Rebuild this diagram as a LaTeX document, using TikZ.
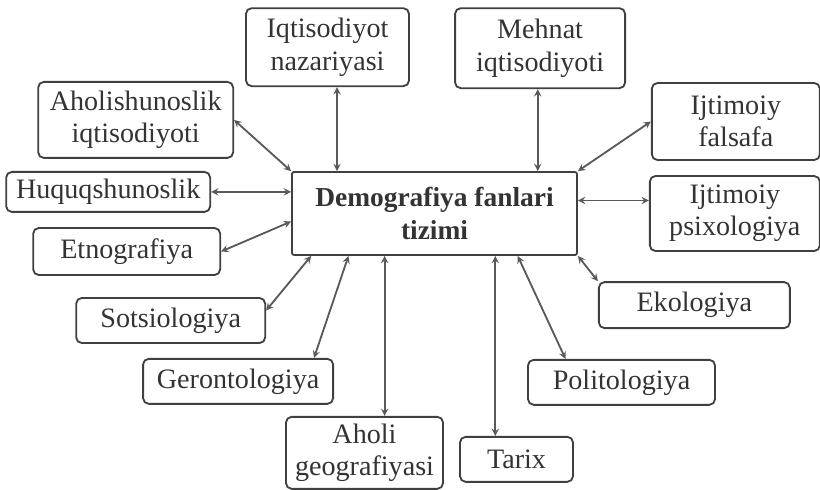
\documentclass[tikz,border=0pt]{standalone}
\usepackage{fontspec}
\setmainfont{Liberation Serif}
\usetikzlibrary{positioning, arrows, calc}

\begin{document}
\begin{tikzpicture}[>=stealth,node distance=20mm,
  box/.style={draw=black!75, line width=1.3pt, rounded corners=4pt, align=center, inner sep=1pt,
    text=black!80, font=\fontsize{20}{23}\selectfont},
  link/.style={<->, draw=black!65, line width=1.3pt}]
  \useasboundingbox (0,0) rectangle (20.5,-12.225);

  \node[box, rounded corners=1.5pt, minimum width=7.125cm, minimum height=2.075cm,
    font=\bfseries\fontsize{19.5}{23}\selectfont] (c) at (10.8625,-5.3375) {Demografiya fanlari\\tizimi};

  \node[box, minimum width=4.075cm, minimum height=1.95cm, above=2.1cm of c, xshift=-2.675cm] (iqt) {Iqtisodiyot\\nazariyasi};
  \node[box, minimum width=4.25cm, minimum height=2cm, above=2.05cm of c, xshift=2.64cm] (meh) {Mehnat\\iqtisodiyoti};
  \node[box, minimum width=4.875cm, minimum height=1.9cm, left=1.425cm of c, yshift=2.34cm] (aho) {Aholishunoslik\\iqtisodiyoti};
  \node[box, minimum width=5.1cm, minimum height=1cm, left=2cm of c, yshift=0.54cm] (huq) {Huquqshunoslik};
  \node[box, minimum width=4.675cm, minimum height=1.175cm, left=1.75cm of c, yshift=-0.95cm] (etn) {Etnografiya};
  \node[box, minimum width=4.725cm, minimum height=1.125cm, left=0.625cm of c, yshift=-2.675cm] (sot) {Sotsiologiya};
  \node[box, minimum width=4.75cm, minimum height=1.125cm, below=2.55cm of c, xshift=-4.91cm] (ger) {Gerontologiya};
  \node[box, minimum width=3.925cm, minimum height=1.8cm, below=4cm of c, xshift=-1.75cm] (ageo) {Aholi\\geografiyasi};
  \node[box, minimum width=2.825cm, minimum height=1.125cm, below=4.5cm of c, xshift=2.05cm] (tar) {Tarix};
  \node[box, minimum width=4.675cm, minimum height=1.125cm, below=2.575cm of c, xshift=4.675cm] (pol) {Politologiya};
  \node[box, minimum width=4.775cm, minimum height=1.15cm, right=0.5cm of c, yshift=-2.29cm] (eko) {Ekologiya};
  \node[box, minimum width=4.25cm, minimum height=1.875cm, right=1.775cm of c] (psi) {Ijtimoiy\\psixologiya};
  \node[box, minimum width=4.2cm, minimum height=1.925cm, right=1.825cm of c, yshift=2.3cm] (fal) {Ijtimoiy\\falsafa};

  % ports on the central box
  \coordinate (t1) at ($(c.north west)!0.16!(c.north east)$);
  \coordinate (t2) at ($(c.north west)!0.86!(c.north east)$);
  \coordinate (b1) at ($(c.south west)!0.07!(c.south east)$);
  \coordinate (b2) at ($(c.south west)!0.2!(c.south east)$);
  \coordinate (b3) at ($(c.south west)!0.326!(c.south east)$);
  \coordinate (b4) at ($(c.south west)!0.712!(c.south east)$);
  \coordinate (b5) at ($(c.south west)!0.79!(c.south east)$);

  \draw (iqt.south -| t1) edge[link] (t1)
        (meh.south -| t2) edge[link] (t2)
        (aho.east) edge[link] (c.north west)
        (huq.east) edge[link] (huq.east -| c.west)
        (etn.east) edge[link] ([yshift=-0.2cm]c.west)
        ([yshift=0.25cm]sot.east) edge[link] (b1)
        ([xshift=-0.5cm]ger.north east) edge[link] (b2)
        (ageo.north -| b3) edge[link] (b3)
        (tar.north -| b4) edge[link] (b4)
        ([xshift=-1.4cm]pol.north) edge[link] (b5)
        (eko.north west) edge[link] (c.south east)
        ([yshift=0.325cm]psi.west) edge[link] ([yshift=0.325cm]psi.west -| c.east)
        (fal.west) edge[link] (c.north east);
\end{tikzpicture}
\end{document}
